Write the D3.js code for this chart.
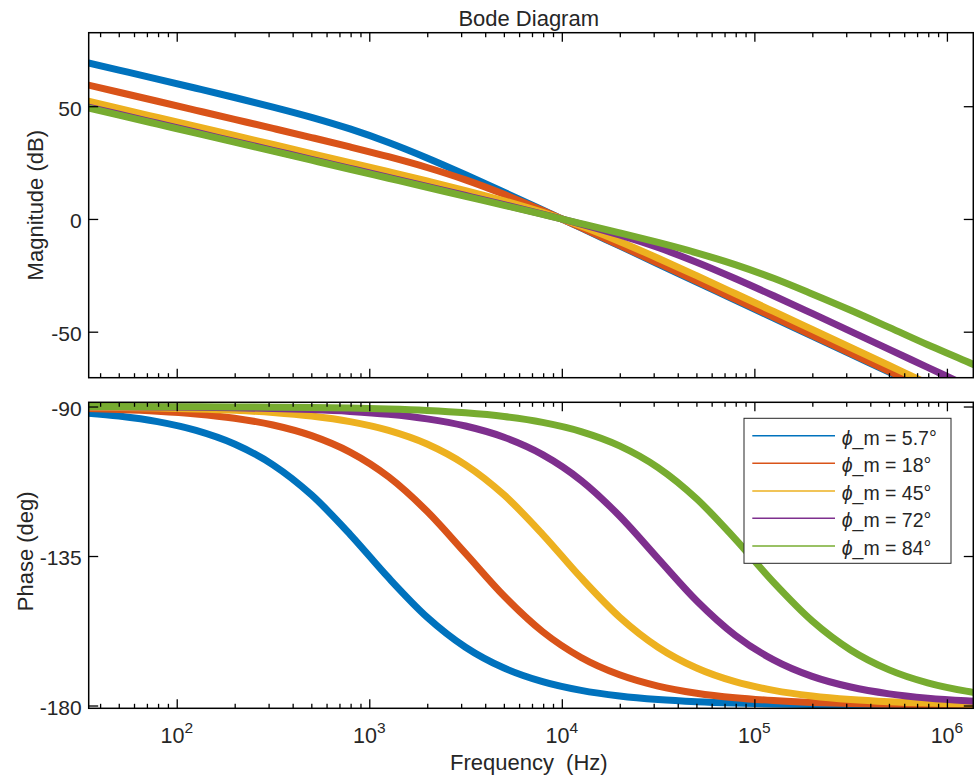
<!DOCTYPE html>
<html><head><meta charset="utf-8">
<script src="https://cdn.jsdelivr.net/npm/d3@7"></script>
<style>
body{margin:0;background:#fff}
text{font-family:"Liberation Sans",Arial,Helvetica,sans-serif;fill:#262626}
</style>
</head><body>
<svg id="chart" width="974" height="779"></svg>
<script>
// ---------- data ----------
const freqHz = [31.62, 50.12, 79.43, 125.9, 199.5, 316.2, 501.2, 794.3, 1259, 1995, 3162, 5012, 7943,
  12590, 19950, 31620, 50120, 79430, 125900, 199500, 316200, 501200, 794300, 1259000, 1995000];

const seriesLabels = ["\u03D5_m = 5.7\u00B0", "\u03D5_m = 18\u00B0", "\u03D5_m = 45\u00B0", "\u03D5_m = 72\u00B0", "\u03D5_m = 84\u00B0"];
const seriesColors = ["#0072BD", "#D95319", "#EDB120", "#7E2F8E", "#77AC30"];

const magBlue   = [70.04, 66.03, 62.02, 57.97, 53.87, 49.63, 45.07, 39.92, 33.92, 27.07, 19.63, 11.87, 3.97, -3.98, -11.97, -19.96, -27.96, -35.96, -43.96, -51.96, -59.96, -67.96, -75.96, -83.96, -91.96];
const magOrange = [60.20, 56.20, 52.20, 48.19, 44.18, 40.16, 36.10, 31.95, 27.59, 22.81, 17.31, 10.91, 3.76, -3.84, -11.68, -19.61, -27.58, -35.57, -43.57, -51.57, -59.56, -67.56, -75.56, -83.56, -91.56];
const magYellow = [53.01, 49.01, 45.01, 41.01, 37.01, 33.01, 29.00, 24.98, 20.94, 16.84, 12.60, 8.04, 2.89, -3.11, -9.96, -17.40, -25.16, -33.06, -41.02, -49.00, -56.99, -64.99, -72.99, -80.99, -88.99];
const magPurple = [50.44, 46.44, 42.44, 38.44, 34.44, 30.44, 26.43, 22.43, 18.43, 14.42, 10.39, 6.32, 2.16, -2.24, -7.09, -12.69, -19.19, -26.41, -34.05, -41.90, -49.84, -57.82, -65.81, -73.80, -81.80];
const magGreen  = [50.05, 46.05, 42.05, 38.05, 34.05, 30.05, 26.05, 22.05, 18.05, 14.05, 10.04, 6.04, 2.02, -2.03, -6.14, -10.41, -15.01, -20.24, -26.34, -33.27, -40.5, -48.1, -55.8, -63.1, -70.9];

const phBlue   = [-91.81, -92.87, -94.54, -97.18, -101.28, -107.55, -116.62, -128.46, -141.54, -153.38, -162.45, -168.72, -172.83, -175.46, -177.13, -178.19, -178.86, -179.28, -179.55, -179.71, -179.82, -179.89, -179.93, -179.96, -179.97];
const phOrange = [-90.56, -90.88, -91.40, -92.22, -93.51, -95.56, -98.77, -103.73, -111.17, -121.55, -134.22, -147.05, -157.76, -165.53, -170.75, -174.14, -176.29, -177.66, -178.52, -179.07, -179.41, -179.63, -179.77, -179.85, -179.91];
const phYellow = [-90.18, -90.29, -90.46, -90.72, -91.14, -91.81, -92.87, -94.54, -97.18, -101.28, -107.55, -116.62, -128.46, -141.54, -153.38, -162.45, -168.72, -172.83, -175.46, -177.13, -178.19, -178.86, -179.28, -179.55, -179.71];
const phPurple = [-90.06, -90.09, -90.15, -90.23, -90.37, -90.59, -90.93, -91.48, -92.34, -93.71, -95.87, -99.25, -104.47, -112.24, -122.95, -135.78, -148.45, -158.83, -166.27, -171.24, -174.44, -176.49, -177.78, -178.60, -179.12];
const phGreen  = [-90.02, -90.03, -90.05, -90.08, -90.12, -90.19, -90.30, -90.48, -90.76, -91.20, -91.90, -93.01, -94.77, -97.53, -101.83, -108.37, -117.76, -129.85, -142.93, -154.52, -163.27, -169.27, -173.18, -175.68, -177.27];

const magSeries = [magBlue, magOrange, magYellow, magPurple, magGreen];
const phSeries  = [phBlue, phOrange, phYellow, phPurple, phGreen];

const xDomain = [34.9, 1.371e6];
const magDomain = [-70.4, 82.6];
const phDomain = [-180.84, -88.73];
const xMajorTicks = [1e2, 1e3, 1e4, 1e5, 1e6];
const xTickExponents = ["2", "3", "4", "5", "6"];
const magTicks = [-50, 0, 50];
const phTicks = [-180, -135, -90];

// ---------- layout ----------
const svg = d3.select("#chart");
const L = 88.7, R = 973.3;
const top1 = 32.7, bot1 = 377.7, top2 = 402.3, bot2 = 708.3;

const x = d3.scaleLog().domain(xDomain).range([L, R]);
const yMag = d3.scaleLinear().domain(magDomain).range([bot1, top1]);
const yPh = d3.scaleLinear().domain(phDomain).range([bot2, top2]);

// minor ticks
const minorTicks = [];
for (let e = 1; e <= 6; e++) for (let m = 2; m <= 9; m++) {
  const v = m * Math.pow(10, e);
  if (v >= xDomain[0] && v <= xDomain[1]) minorTicks.push(v);
}

const defs = svg.append("defs");
defs.append("clipPath").attr("id", "clip1").append("rect").attr("x", L).attr("y", top1).attr("width", R - L).attr("height", bot1 - top1);
defs.append("clipPath").attr("id", "clip2").append("rect").attr("x", L).attr("y", top2).attr("width", R - L).attr("height", bot2 - top2);

function drawPanel(yScale, series, yTicks, clipId, top, bot, showXLabels) {
  const g = svg.append("g");
  const line = d3.line().x((d, i) => x(freqHz[i])).y(d => yScale(d)).curve(d3.curveMonotoneX);
  g.append("g").attr("clip-path", `url(#${clipId})`)
    .selectAll("path").data(series).join("path")
    .attr("d", d => line(d))
    .attr("fill", "none")
    .attr("stroke", (d, i) => seriesColors[i])
    .attr("stroke-width", 7)
    .attr("stroke-linejoin", "round");

  const styleAxis = sel => { sel.select(".domain").remove(); sel.selectAll(".tick line").attr("stroke", "#000").attr("stroke-width", 1.3); sel.selectAll(".tick text").remove(); };
  // x ticks bottom & top
  g.append("g").attr("transform", `translate(0,${bot})`).call(d3.axisBottom(x).tickValues(xMajorTicks).tickSize(-9)).call(styleAxis);
  g.append("g").attr("transform", `translate(0,${bot})`).call(d3.axisBottom(x).tickValues(minorTicks).tickSize(-4.5)).call(styleAxis);
  g.append("g").attr("transform", `translate(0,${top})`).call(d3.axisTop(x).tickValues(xMajorTicks).tickSize(-9)).call(styleAxis);
  g.append("g").attr("transform", `translate(0,${top})`).call(d3.axisTop(x).tickValues(minorTicks).tickSize(-4.5)).call(styleAxis);
  // y ticks left & right
  g.append("g").attr("transform", `translate(${L},0)`).call(d3.axisLeft(yScale).tickValues(yTicks).tickSize(-9.5)).call(styleAxis);
  g.append("g").attr("transform", `translate(${R},0)`).call(d3.axisRight(yScale).tickValues(yTicks).tickSize(-9.5)).call(styleAxis);
  // frame
  g.append("rect").attr("x", L).attr("y", top).attr("width", R - L).attr("height", bot - top)
    .attr("fill", "none").attr("stroke", "#000").attr("stroke-width", 1.5);
  // y labels
  g.selectAll("text.ylab").data(yTicks).join("text").attr("class", "ylab")
    .attr("x", 81.7).attr("y", d => yScale(d) + 9.3)
    .attr("text-anchor", "end").attr("font-size", 21)
    .text(d => d);
  if (showXLabels) {
    const t = g.selectAll("text.xlab").data(xMajorTicks).join("text").attr("class", "xlab")
      .attr("x", d => x(d)).attr("y", 743.3).attr("text-anchor", "middle").attr("font-size", 21.5);
    t.append("tspan").text("10");
    t.append("tspan").attr("font-size", 15.5).attr("dy", -10).text((d, i) => xTickExponents[i]);
  }
}

drawPanel(yMag, magSeries, magTicks, "clip1", top1, bot1, false);
drawPanel(yPh, phSeries, phTicks, "clip2", top2, bot2, true);

// title and axis labels
svg.append("text").attr("x", 528.7).attr("y", 26).attr("text-anchor", "middle").attr("font-size", 22).text("Bode Diagram");
svg.append("text").attr("x", 528.8).attr("y", 770).attr("text-anchor", "middle").attr("font-size", 22)
  .style("white-space", "pre").attr("xml:space", "preserve").text("Frequency  (Hz)");
svg.append("text").attr("transform", `translate(42.5,${(top1 + bot1) / 2}) rotate(-90)`).attr("text-anchor", "middle").attr("font-size", 22).text("Magnitude (dB)");
svg.append("text").attr("transform", `translate(33,${(top2 + bot2) / 2 - 4}) rotate(-90)`).attr("text-anchor", "middle").attr("font-size", 22).text("Phase (deg)");

// legend
const lg = svg.append("g");
lg.append("rect").attr("x", 744).attr("y", 418.3).attr("width", 207).attr("height", 145)
  .attr("fill", "#fff").attr("stroke", "#262626").attr("stroke-width", 1);
const rowY = [435.7, 463.3, 491, 518.3, 546];
const rows = lg.selectAll("g.row").data(seriesLabels).join("g").attr("class", "row");
rows.append("line").attr("x1", 752.3).attr("x2", 835).attr("y1", (d, i) => rowY[i]).attr("y2", (d, i) => rowY[i])
  .attr("stroke", (d, i) => seriesColors[i]).attr("stroke-width", 1.5);
rows.append("text").attr("x", 841.7).attr("y", (d, i) => rowY[i] + 8.8).attr("font-size", 19.5)
  .each(function(d) {
    const t = d3.select(this);
    t.append("tspan").attr("font-style", "italic").text(d.slice(0, 1));
    t.append("tspan").text(d.slice(1));
  });
</script>
</body></html>
